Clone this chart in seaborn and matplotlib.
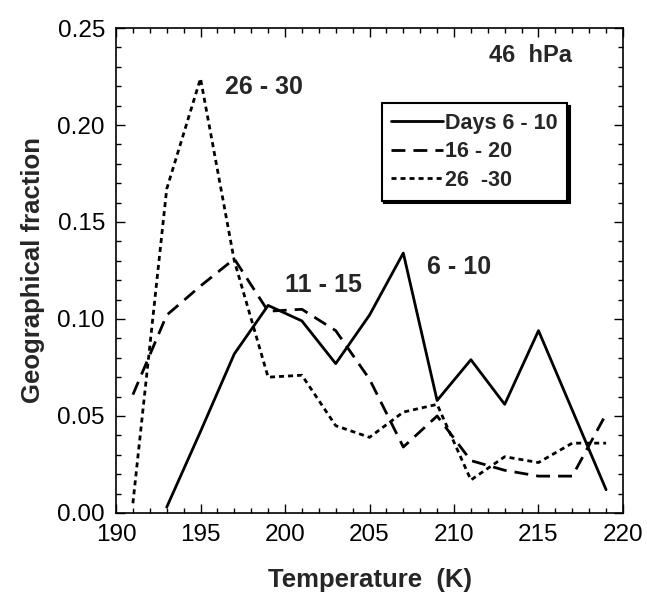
import matplotlib
matplotlib.use("Agg")
import matplotlib.pyplot as plt
from matplotlib.ticker import MultipleLocator
import pandas as pd
import seaborn as sns

# temperature bins (K) and geographical fraction per period
temp_6_10 = [193, 195, 197, 199, 201, 203, 205, 207, 209, 211, 213, 215, 217, 219]
frac_6_10 = [0.003, 0.042, 0.082, 0.107, 0.099, 0.077, 0.102, 0.134, 0.058, 0.079, 0.056, 0.094, 0.053, 0.012]

temp_16_20 = [191, 193, 195, 197, 199, 201, 203, 205, 207, 209, 211, 213, 215, 217, 219]
frac_16_20 = [0.061, 0.102, 0.117, 0.131, 0.104, 0.105, 0.094, 0.069, 0.034, 0.050, 0.027, 0.022, 0.019, 0.019, 0.051]

temp_26_30 = [191, 193, 195, 197, 199, 201, 203, 205, 207, 209, 211, 213, 215, 217, 219]
frac_26_30 = [0.005, 0.167, 0.224, 0.130, 0.070, 0.071, 0.045, 0.039, 0.052, 0.056, 0.017, 0.029, 0.026, 0.036, 0.036]

series_names = ["Days 6 - 10", "16 - 20", "26  -30"]
x_ticks = [190, 195, 200, 205, 210, 215, 220]
y_ticks = [0.00, 0.05, 0.10, 0.15, 0.20, 0.25]

frame = pd.concat([
    pd.DataFrame({"T": temp_6_10, "frac": frac_6_10, "series": series_names[0]}),
    pd.DataFrame({"T": temp_16_20, "frac": frac_16_20, "series": series_names[1]}),
    pd.DataFrame({"T": temp_26_30, "frac": frac_26_30, "series": series_names[2]}),
], ignore_index=True)

sns.set_theme(style="ticks")
plt.rcParams["font.family"] = ["Liberation Sans", "DejaVu Sans"]

fig = plt.figure(figsize=(6.47, 5.96), dpi=100)
ax = fig.add_axes([0.1793, 0.1393, 0.7836, 0.8137])

sns.lineplot(
    data=frame, x="T", y="frac", style="series", hue="series",
    palette=["black"] * 3,
    dashes={series_names[0]: "", series_names[1]: (5, 2.9), series_names[2]: (1.8, 1.45)},
    linewidth=2.0, sort=False, legend=False, ax=ax,
)

ax.set_xlim(190, 220)
ax.set_ylim(0, 0.25)
ax.set_xticks(x_ticks)
ax.set_yticks(y_ticks)
ax.set_xticklabels([str(t) for t in x_ticks])
ax.set_yticklabels([f"{v:.2f}" for v in y_ticks])
ax.xaxis.set_minor_locator(MultipleLocator(1))
ax.yaxis.set_minor_locator(MultipleLocator(0.01))
ax.tick_params(which="both", direction="in", top=True, right=True, colors="black", width=1.0)
ax.tick_params(which="major", length=6.5, labelsize=17.5, pad=8)
ax.tick_params(which="minor", length=3.5)
for spine in ax.spines.values():
    spine.set_color("black")
    spine.set_linewidth(1.2)

ax.set_xlabel("Temperature  (K)", fontsize=18.5, fontweight="bold", labelpad=16)
ax.set_ylabel("Geographical fraction", fontsize=18.5, fontweight="bold", labelpad=9)

ax.text(217.0, 0.236, "46  hPa", fontsize=17, fontweight="bold", ha="right", va="center")
ax.text(196.45, 0.2196, "26 - 30", fontsize=18, fontweight="bold", ha="left", va="center")
ax.text(200.0, 0.1175, "11 - 15", fontsize=18, fontweight="bold", ha="left", va="center")
ax.text(208.4, 0.127, "6 - 10", fontsize=18, fontweight="bold", ha="left", va="center")

handles = ax.get_lines()[:3]
leg = ax.legend(
    handles, series_names, loc="upper left", bbox_to_anchor=(0.524, 0.845),
    borderaxespad=0, prop={"weight": "bold", "size": 15.5}, handlelength=2.4,
    handletextpad=0.1, labelspacing=0.35, borderpad=0.45, fancybox=False,
    frameon=True, edgecolor="black", framealpha=1,
    shadow={"color": "black", "alpha": 1},
)
leg.get_frame().set_linewidth(1.5)

fig.savefig("out.png", dpi=100)
